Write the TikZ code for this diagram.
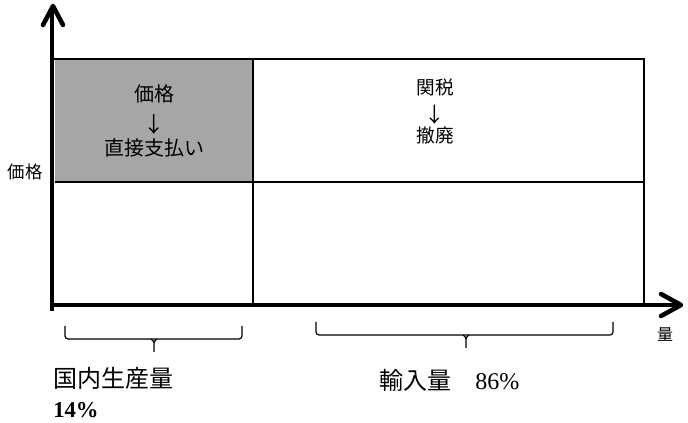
\documentclass[tikz,border=0pt]{standalone}
\usepackage{fontspec}
\setmainfont{Liberation Serif}
\newfontfamily\jp{Noto Sans CJK JP}
\begin{document}
\begin{tikzpicture}[x=0.75pt,y=-0.75pt,
  celltext/.style={font=\jp\fontsize{15}{19}\selectfont,inner sep=0pt},
  cellarrow/.style={font=\jp\fontsize{16}{16}\selectfont,inner sep=0pt,text height=0.8em,text depth=0pt},
  axisline/.style={line width=3.4pt,line cap=butt},
  barb/.style={line width=3.4pt,line cap=round,line join=round},
  frame/.style={line width=1.9pt},
  inner/.style={line width=1pt},
  bracket/.style={line width=0.9pt,rounded corners=2.25pt},
  lbl/.style={inner sep=0pt,anchor=west}]
\useasboundingbox (0,0) rectangle (688,423);
% cells
\fill[fill={rgb,255:red,166;green,166;blue,166}] (55,59) rectangle (253,182);
\draw[inner] (55,182) -- (644,182);
\draw[inner] (253,59) -- (253,305);
\draw[frame] (53,59) -- (644,59) -- (644,305);
% axes
\coordinate (O) at (52,305);
\coordinate (ytip) at (52,8);
\coordinate (xtip) at (680,305);
\draw[axisline] (52,311) -- (ytip);
\draw[axisline] (50,305) -- (xtip);
\draw[barb] (43,25) -- (53,6) -- (63,25);
\draw[barb] (661,294) -- (681,305) -- (661,316);
% texts in cells
\node[celltext] (c1a) at (154,94) {価格};
\node[cellarrow] (c1b) at (154,127) {↓};
\node[celltext] (c1c) at (154,148) {直接支払い};
\node[celltext,font=\jp\fontsize{14}{17}\selectfont] (c2a) at (435,87) {関税};
\node[cellarrow,font=\jp\fontsize{15.5}{16}\selectfont] (c2b) at (435,117) {↓};
\node[celltext,font=\jp\fontsize{14}{17}\selectfont] (c2c) at (435,135) {撤廃};
\node[inner sep=0pt,font=\jp\fontsize{13}{15}\selectfont] (ylab) at (25,172) {価格};
\node[inner sep=0pt,font=\jp\fontsize{12}{14}\selectfont] (xlab) at (665,334) {量};
% brackets
\draw[bracket] (65,326) -- (65,339) -- (242,339) -- (242,326);
\draw[line width=0.9pt] (151,339) to[out=-45,in=90] (154,343) -- (154,352);
\draw[line width=0.9pt] (157,339) to[out=225,in=90] (154,343);
\draw[bracket] (316,322) -- (316,335) -- (613,335) -- (613,322);
\draw[line width=0.9pt] (463,335) to[out=-45,in=90] (466,339) -- (466,348);
\draw[line width=0.9pt] (469,335) to[out=225,in=90] (466,339);
% bottom labels
\node[lbl,font=\jp\fontsize{18}{20}\selectfont] (dom) at (53,378) {国内生産量};
\node[lbl,font=\bfseries\fontsize{17}{20}\selectfont] (dompct) at (53,410) {14\%};
\node[lbl,font=\fontsize{18}{20}\selectfont] (imp) at (379,380) {{\jp 輸入量}\hspace{1em}86\%};
\end{tikzpicture}
\end{document}
